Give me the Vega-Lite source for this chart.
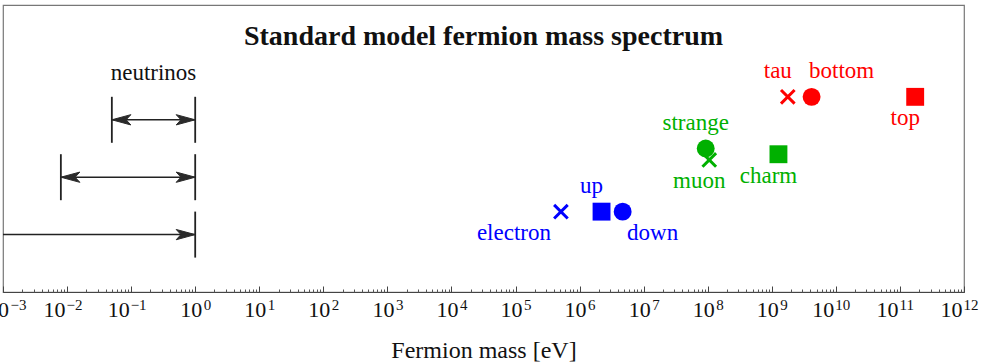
{
  "$schema": "https://vega.github.io/schema/vega-lite/v6.json",
  "autosize": "none",
  "width": 961,
  "height": 287,
  "padding": {"left": 3, "top": 5, "right": 21, "bottom": 72},
  "background": "white",
  "config": {
    "font": "Liberation Serif",
    "view": {"stroke": "#777", "strokeWidth": 1.2}
  },
  "title": {
    "text": "Standard model fermion mass spectrum",
    "font": "Liberation Serif",
    "fontSize": 28,
    "fontWeight": "bold",
    "color": "#111",
    "anchor": "middle",
    "frame": "group",
    "baseline": "alphabetic",
    "offset": 0,
    "dy": 68
  },
  "datasets": {
    "neutrinos": [
      {"gen": 3, "lo": 0.05, "hi": 1},
      {"gen": 2, "lo": 0.008, "hi": 1},
      {"gen": 1, "lo": 0.00001, "hi": 1}
    ],
    "fermions": [
      {"name": "electron", "mass": 511000, "level": 1.4, "gen": 1, "kind": "lepton", "anchor": "below left"},
      {"name": "up", "mass": 2200000, "level": 1.4, "gen": 1, "kind": "up-type", "anchor": "above"},
      {"name": "down", "mass": 4700000, "level": 1.4, "gen": 1, "kind": "down-type", "anchor": "below right"},
      {"name": "muon", "mass": 105700000, "level": 2.3, "gen": 2, "kind": "lepton", "anchor": "below"},
      {"name": "strange", "mass": 93000000, "level": 2.5, "gen": 2, "kind": "down-type", "anchor": "above"},
      {"name": "charm", "mass": 1270000000, "level": 2.4, "gen": 2, "kind": "up-type", "anchor": "below"},
      {"name": "tau", "mass": 1777000000, "level": 3.4, "gen": 3, "kind": "lepton", "anchor": "above"},
      {"name": "bottom", "mass": 4180000000, "level": 3.4, "gen": 3, "kind": "down-type", "anchor": "above right"},
      {"name": "top", "mass": 173000000000, "level": 3.4, "gen": 3, "kind": "up-type", "anchor": "below"}
    ],
    "notes": [
      {"text": "neutrinos", "mass": 0.2236, "level": 3.4}
    ]
  },
  "resolve": {"axis": {"x": "independent"}},
  "layer": [
    {
      "data": {"name": "neutrinos"},
      "mark": {"type": "rule", "clip": true, "color": "#222", "strokeWidth": 1.5},
      "encoding": {
        "x": {
          "field": "lo", "type": "quantitative",
          "scale": {"type": "log", "domain": [0.001, 1000000000000], "nice": false},
          "axis": {
            "orient": "bottom",
            "values": [0.001, 0.01, 0.1, 1, 10, 100, 1000, 10000, 100000, 1000000, 10000000, 100000000, 1000000000, 10000000000, 100000000000, 1000000000000],
            "grid": false,
            "domain": true,
            "domainColor": "#444",
            "domainWidth": 1.2,
            "ticks": true,
            "tickSize": -6,
            "tickColor": "#444",
            "tickWidth": 1,
            "labelExpr": "'10'",
            "labelFont": "Liberation Serif",
            "labelFontSize": 22,
            "labelColor": "#111",
            "labelAlign": "right",
            "labelBaseline": "alphabetic",
            "labelPadding": 30.7,
            "labelOffset": {"condition": [
              {"test": "datum.value < 0.005", "value": 5.5},
              {"test": "datum.value < 0.5 || datum.value > 5000000000", "value": -2}
            ], "value": 6.5},
            "labelFlush": false,
            "labelOverlap": false,
            "labelBound": false,
            "title": "Fermion mass [eV]",
            "titleFont": "Liberation Serif",
            "titleFontSize": 24,
            "titleFontWeight": "normal",
            "titleColor": "#111",
            "titleBaseline": "alphabetic",
            "titleY": 65
          }
        },
        "x2": {"field": "hi"},
        "y": {"field": "gen", "type": "quantitative", "scale": {"domain": [0, 5], "nice": false, "zero": false}, "axis": null}
      }
    },
    {
      "data": {"name": "neutrinos"},
      "transform": [{"fold": ["lo", "hi"], "as": ["end", "bound"]}],
      "mark": {"type": "tick", "orient": "vertical", "clip": true, "color": "#222", "size": 46, "thickness": 1.8, "opacity": 1},
      "encoding": {
        "x": {
          "field": "bound", "type": "quantitative",
          "axis": {
            "orient": "bottom",
            "values": [0.002, 0.003, 0.004, 0.005, 0.006, 0.007, 0.008, 0.009,
                       0.02, 0.03, 0.04, 0.05, 0.06, 0.07, 0.08, 0.09,
                       0.2, 0.3, 0.4, 0.5, 0.6, 0.7, 0.8, 0.9,
                       2, 3, 4, 5, 6, 7, 8, 9,
                       20, 30, 40, 50, 60, 70, 80, 90,
                       200, 300, 400, 500, 600, 700, 800, 900,
                       2000, 3000, 4000, 5000, 6000, 7000, 8000, 9000,
                       20000, 30000, 40000, 50000, 60000, 70000, 80000, 90000,
                       200000, 300000, 400000, 500000, 600000, 700000, 800000, 900000,
                       2000000, 3000000, 4000000, 5000000, 6000000, 7000000, 8000000, 9000000,
                       20000000, 30000000, 40000000, 50000000, 60000000, 70000000, 80000000, 90000000,
                       200000000, 300000000, 400000000, 500000000, 600000000, 700000000, 800000000, 900000000,
                       2000000000, 3000000000, 4000000000, 5000000000, 6000000000, 7000000000, 8000000000, 9000000000,
                       20000000000, 30000000000, 40000000000, 50000000000, 60000000000, 70000000000, 80000000000, 90000000000,
                       200000000000, 300000000000, 400000000000, 500000000000, 600000000000, 700000000000, 800000000000, 900000000000],
            "grid": false,
            "domain": false,
            "labels": false,
            "ticks": true,
            "tickSize": -3,
            "tickColor": "#555",
            "tickWidth": 1,
            "title": null
          }
        },
        "y": {"field": "gen", "type": "quantitative"}
      }
    },
    {
      "data": {"name": "neutrinos"},
      "mark": {"type": "point", "clip": true, "shape": "M0,0L1,-0.27L0.75,0L1,0.27Z", "filled": true, "fill": "#2a2a2a", "fillOpacity": 1, "size": 1444, "opacity": 1, "stroke": "#2a2a2a", "strokeWidth": 1},
      "encoding": {
        "x": {
          "field": "lo", "type": "quantitative",
          "axis": {
            "orient": "bottom",
            "values": [0.001, 0.01, 0.1, 1, 10, 100, 1000, 10000, 100000, 1000000, 10000000, 100000000, 1000000000, 10000000000, 100000000000, 1000000000000],
            "grid": false,
            "domain": false,
            "ticks": true,
            "tickSize": 0,
            "tickOpacity": 0,
            "labelExpr": "(datum.value < 0.5 ? '−' : '') + abs(round(log(datum.value) / LN10))",
            "labelFont": "Liberation Serif",
            "labelFontSize": 15,
            "labelColor": "#111",
            "labelAlign": "left",
            "labelBaseline": "alphabetic",
            "labelPadding": 17.7,
            "labelOffset": {"condition": [
              {"test": "datum.value < 0.005", "value": 7},
              {"test": "datum.value < 0.5 || datum.value > 5000000000", "value": -1}
            ], "value": 8},
            "labelFlush": false,
            "labelOverlap": false,
            "labelBound": false,
            "title": null
          }
        },
        "y": {"field": "gen", "type": "quantitative"}
      }
    },
    {
      "data": {"name": "neutrinos"},
      "mark": {"type": "point", "clip": true, "shape": "M0,0L-1,-0.27L-0.75,0L-1,0.27Z", "filled": true, "fill": "#2a2a2a", "fillOpacity": 1, "size": 1444, "opacity": 1, "stroke": "#2a2a2a", "strokeWidth": 1},
      "encoding": {
        "x": {"field": "hi", "type": "quantitative", "axis": null},
        "y": {"field": "gen", "type": "quantitative"}
      }
    },
    {
      "data": {"name": "notes"},
      "mark": {"type": "text", "font": "Liberation Serif", "fontSize": 23, "color": "#111", "align": "center", "baseline": "alphabetic", "dy": -17},
      "encoding": {
        "x": {"field": "mass", "type": "quantitative", "axis": null},
        "y": {"field": "level", "type": "quantitative"},
        "text": {"field": "text"}
      }
    },
    {
      "data": {"name": "fermions"},
      "transform": [{"filter": "datum.kind != 'lepton'"}],
      "mark": {"type": "point", "filled": true, "opacity": 1, "size": 320},
      "encoding": {
        "x": {"field": "mass", "type": "quantitative", "axis": null},
        "y": {"field": "level", "type": "quantitative"},
        "color": {"field": "gen", "type": "nominal", "scale": {"domain": [1, 2, 3], "range": ["#0000ff", "#00b000", "#ff0000"]}, "legend": null},
        "shape": {"field": "kind", "type": "nominal", "scale": {"domain": ["up-type", "down-type"], "range": ["square", "circle"]}, "legend": null}
      }
    },
    {
      "data": {"name": "fermions"},
      "transform": [{"filter": "datum.kind == 'lepton'"}],
      "mark": {"type": "point", "filled": false, "opacity": 1, "size": 289, "strokeWidth": 3, "shape": "M-0.8,-0.8L0.8,0.8M-0.8,0.8L0.8,-0.8"},
      "encoding": {
        "x": {"field": "mass", "type": "quantitative", "axis": null},
        "y": {"field": "level", "type": "quantitative"},
        "color": {"field": "gen", "type": "nominal", "legend": null}
      }
    },
    {
      "data": {"name": "fermions"},
      "transform": [{"filter": "datum.anchor == 'above'"}],
      "mark": {"type": "text", "font": "Liberation Serif", "fontSize": 23, "align": "center", "baseline": "alphabetic", "dx": -10, "dy": -19},
      "encoding": {
        "x": {"field": "mass", "type": "quantitative", "axis": null},
        "y": {"field": "level", "type": "quantitative"},
        "text": {"field": "name"},
        "color": {"field": "gen", "type": "nominal", "legend": null}
      }
    },
    {
      "data": {"name": "fermions"},
      "transform": [{"filter": "datum.anchor == 'above right'"}],
      "mark": {"type": "text", "font": "Liberation Serif", "fontSize": 23, "align": "center", "baseline": "alphabetic", "dx": 30, "dy": -19},
      "encoding": {
        "x": {"field": "mass", "type": "quantitative", "axis": null},
        "y": {"field": "level", "type": "quantitative"},
        "text": {"field": "name"},
        "color": {"field": "gen", "type": "nominal", "legend": null}
      }
    },
    {
      "data": {"name": "fermions"},
      "transform": [{"filter": "datum.anchor == 'below'"}],
      "mark": {"type": "text", "font": "Liberation Serif", "fontSize": 23, "align": "center", "baseline": "alphabetic", "dx": -10, "dy": 28.5},
      "encoding": {
        "x": {"field": "mass", "type": "quantitative", "axis": null},
        "y": {"field": "level", "type": "quantitative"},
        "text": {"field": "name"},
        "color": {"field": "gen", "type": "nominal", "legend": null}
      }
    },
    {
      "data": {"name": "fermions"},
      "transform": [{"filter": "datum.anchor == 'below right'"}],
      "mark": {"type": "text", "font": "Liberation Serif", "fontSize": 23, "align": "center", "baseline": "alphabetic", "dx": 30, "dy": 28.5},
      "encoding": {
        "x": {"field": "mass", "type": "quantitative", "axis": null},
        "y": {"field": "level", "type": "quantitative"},
        "text": {"field": "name"},
        "color": {"field": "gen", "type": "nominal", "legend": null}
      }
    },
    {
      "data": {"name": "fermions"},
      "transform": [{"filter": "datum.anchor == 'below left'"}],
      "mark": {"type": "text", "font": "Liberation Serif", "fontSize": 23, "align": "center", "baseline": "alphabetic", "dx": -47, "dy": 28.5},
      "encoding": {
        "x": {"field": "mass", "type": "quantitative", "axis": null},
        "y": {"field": "level", "type": "quantitative"},
        "text": {"field": "name"},
        "color": {"field": "gen", "type": "nominal", "legend": null}
      }
    }
  ]
}
